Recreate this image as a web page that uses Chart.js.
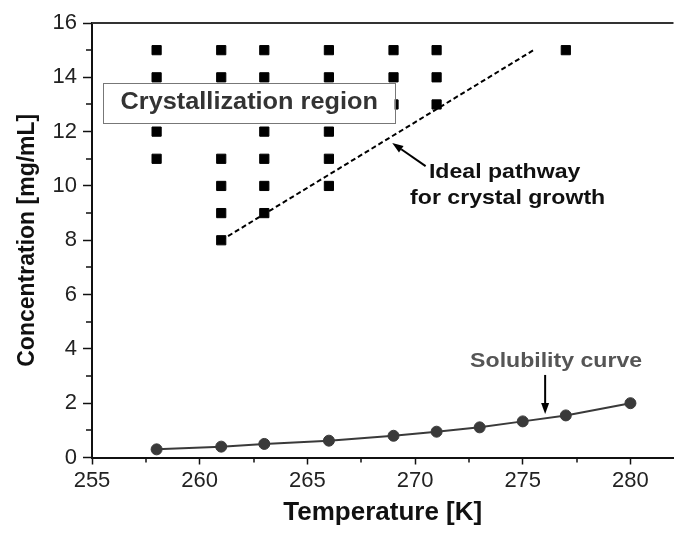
<!DOCTYPE html>
<html>
<head>
<meta charset="utf-8">
<script src="https://cdn.jsdelivr.net/npm/chart.js@4/dist/chart.umd.min.js"></script>
<style>
    html, body { margin: 0; padding: 0; background: #fff; }
    canvas { display: block; }
</style>
</head>
<body>
<canvas id="chart" width="681" height="535"></canvas>
<script>
// crystallization trials: one column of concentrations per temperature
const squareTemps = [258, 261, 263, 266, 269, 271, 277];
const squareConcs = [
    [11, 12, 13, 14, 15],
    [8, 9, 10, 11, 14, 15],
    [9, 10, 11, 12, 13, 14, 15],
    [10, 11, 12, 13, 14, 15],
    [13, 14, 15],
    [13, 14, 15],
    [15],
];

const solubilityTemps = [258, 261, 263, 266, 269, 271, 273, 275, 277, 280];
const solubilityConcs = [0.3, 0.4, 0.5, 0.62, 0.8, 0.95, 1.11, 1.33, 1.55, 2.0];

const pathwayTemps = [261, 275.5];
const pathwayConcs = [8, 15];

const xTicks = [255, 260, 265, 270, 275, 280];
const xMinorTicks = [257.5, 262.5, 267.5, 272.5, 277.5];
const yTicks = [0, 2, 4, 6, 8, 10, 12, 14, 16];
const yMinorTicks = [1, 3, 5, 7, 9, 11, 13, 15];

const FONT = '"Liberation Sans", Arial, sans-serif';
Chart.defaults.font.family = FONT;

const squarePoints = [];
squareTemps.forEach((t, i) => {
    squareConcs[i].forEach(c => squarePoints.push({ x: t, y: c }));
});
const solubilityPoints = solubilityTemps.map((t, i) => ({ x: t, y: solubilityConcs[i] }));
const pathwayPoints = pathwayTemps.map((t, i) => ({ x: t, y: pathwayConcs[i] }));

function stretchedText(ctx, text, x, y, size, color) {
    ctx.save();
    ctx.translate(x, y);
    ctx.scale(1.1, 1);
    ctx.font = `bold ${size}px ${FONT}`;
    ctx.fillStyle = color;
    ctx.textAlign = "center";
    ctx.textBaseline = "middle";
    ctx.fillText(text, 0, 0);
    ctx.restore();
}

function arrow(ctx, x1, y1, x2, y2) {
    const a = Math.atan2(y2 - y1, x2 - x1);
    const len = 11, half = 4;
    const bx = x2 - Math.cos(a) * len, by = y2 - Math.sin(a) * len;
    ctx.save();
    ctx.strokeStyle = "#000";
    ctx.fillStyle = "#000";
    ctx.lineWidth = 2;
    ctx.beginPath();
    ctx.moveTo(x1, y1);
    ctx.lineTo(bx, by);
    ctx.stroke();
    ctx.beginPath();
    ctx.moveTo(x2, y2);
    ctx.lineTo(bx - Math.sin(a) * half, by + Math.cos(a) * half);
    ctx.lineTo(bx + Math.sin(a) * half, by - Math.cos(a) * half);
    ctx.closePath();
    ctx.fill();
    ctx.restore();
}

const annotations = {
    id: "annotations",
    afterDatasetsDraw(chart) {
        const { ctx, scales: { x, y } } = chart;
        const px = v => x.getPixelForValue(v);
        const py = v => y.getPixelForValue(v);

        // label box over the trial grid
        const bx1 = px(255.5), bx2 = px(269.05), by1 = py(13.79), by2 = py(12.32);
        ctx.save();
        ctx.fillStyle = "#fff";
        ctx.fillRect(bx1, by1, bx2 - bx1, by2 - by1);
        ctx.strokeStyle = "#777";
        ctx.lineWidth = 1;
        ctx.strokeRect(Math.round(bx1) + 0.5, Math.round(by1) + 0.5, Math.round(bx2 - bx1), Math.round(by2 - by1));
        ctx.restore();
        stretchedText(ctx, "Crystallization region", px(262.3), py(13.05), 23, "#333");

        stretchedText(ctx, "Ideal pathway", px(274.16), py(10.51), 21, "#111");
        stretchedText(ctx, "for crystal growth", px(274.3), py(9.56), 21, "#111");
        arrow(ctx, px(270.49), py(10.73), px(268.94), py(11.58));

        stretchedText(ctx, "Solubility curve", px(276.55), py(3.55), 21, "#555");
        arrow(ctx, px(276.04), py(3.04), px(276.04), py(1.6));
    },
    afterDraw(chart) {
        const { ctx, chartArea, scales: { x, y } } = chart;
        ctx.save();
        ctx.strokeStyle = "#333";
        ctx.lineWidth = 2;
        ctx.beginPath();
        ctx.moveTo(chartArea.left, chartArea.top);
        ctx.lineTo(chartArea.right, chartArea.top);
        ctx.stroke();

        // minor ticks
        ctx.strokeStyle = "#111";
        ctx.lineWidth = 1.5;
        ctx.beginPath();
        xMinorTicks.forEach(v => {
            const p = Math.round(x.getPixelForValue(v));
            ctx.moveTo(p, chartArea.bottom);
            ctx.lineTo(p, chartArea.bottom + 5);
        });
        yMinorTicks.forEach(v => {
            const p = Math.round(y.getPixelForValue(v));
            ctx.moveTo(chartArea.left, p);
            ctx.lineTo(chartArea.left - 6, p);
        });
        ctx.stroke();
        ctx.restore();
    },
};

new Chart(document.getElementById("chart"), {
    type: "scatter",
    data: {
        datasets: [
            {
                data: squarePoints,
                pointStyle: "rect",
                pointRadius: 6.5,
                pointBackgroundColor: "#000",
                pointBorderColor: "#000",
                pointBorderWidth: 1,
            },
            {
                data: solubilityPoints,
                showLine: true,
                borderColor: "#3a3a3a",
                borderWidth: 2,
                pointRadius: 5.5,
                pointBackgroundColor: "#3a3a3a",
                pointBorderColor: "#3a3a3a",
                pointBorderWidth: 1,
            },
            {
                data: pathwayPoints,
                showLine: true,
                borderColor: "#000",
                borderWidth: 2,
                borderDash: [5, 3],
                pointRadius: 0,
            },
        ],
    },
    options: {
        responsive: false,
        animation: false,
        devicePixelRatio: 1,
        layout: { padding: { top: 23, left: 0, right: 0, bottom: 0 } },
        plugins: {
            legend: { display: false },
            tooltip: { enabled: false },
        },
        scales: {
            x: {
                type: "linear",
                min: 255,
                max: 282,
                afterBuildTicks: s => { s.ticks = xTicks.map(v => ({ value: v })); },
                afterFit: s => { s.height = 77.5; },
                grid: { drawOnChartArea: false, tickLength: 7, tickColor: "#111", tickWidth: 1.5 },
                border: { color: "#111", width: 2 },
                ticks: {
                    padding: 3,
                    color: "#222",
                    font: { size: 22 },
                    maxRotation: 0,
                    autoSkip: false,
                },
                title: {
                    display: true,
                    text: "Temperature [K]",
                    color: "#111",
                    font: { size: 26, weight: "bold", lineHeight: 1 },
                    padding: { top: 0, bottom: 9 },
                },
            },
            y: {
                type: "linear",
                min: 0,
                max: 16,
                afterBuildTicks: s => { s.ticks = yTicks.map(v => ({ value: v })); },
                afterFit: s => { s.width = 92; },
                grid: { drawOnChartArea: false, tickLength: 9, tickColor: "#111", tickWidth: 1.5 },
                border: { color: "#111", width: 2 },
                ticks: {
                    padding: 6,
                    color: "#222",
                    font: { size: 22 },
                },
                title: {
                    display: true,
                    text: "Concentration [mg/mL]",
                    color: "#111",
                    font: { size: 23, weight: "bold", lineHeight: 1 },
                    padding: { top: 16.5, bottom: 0 },
                },
            },
        },
    },
    plugins: [annotations],
});
</script>
</body>
</html>
